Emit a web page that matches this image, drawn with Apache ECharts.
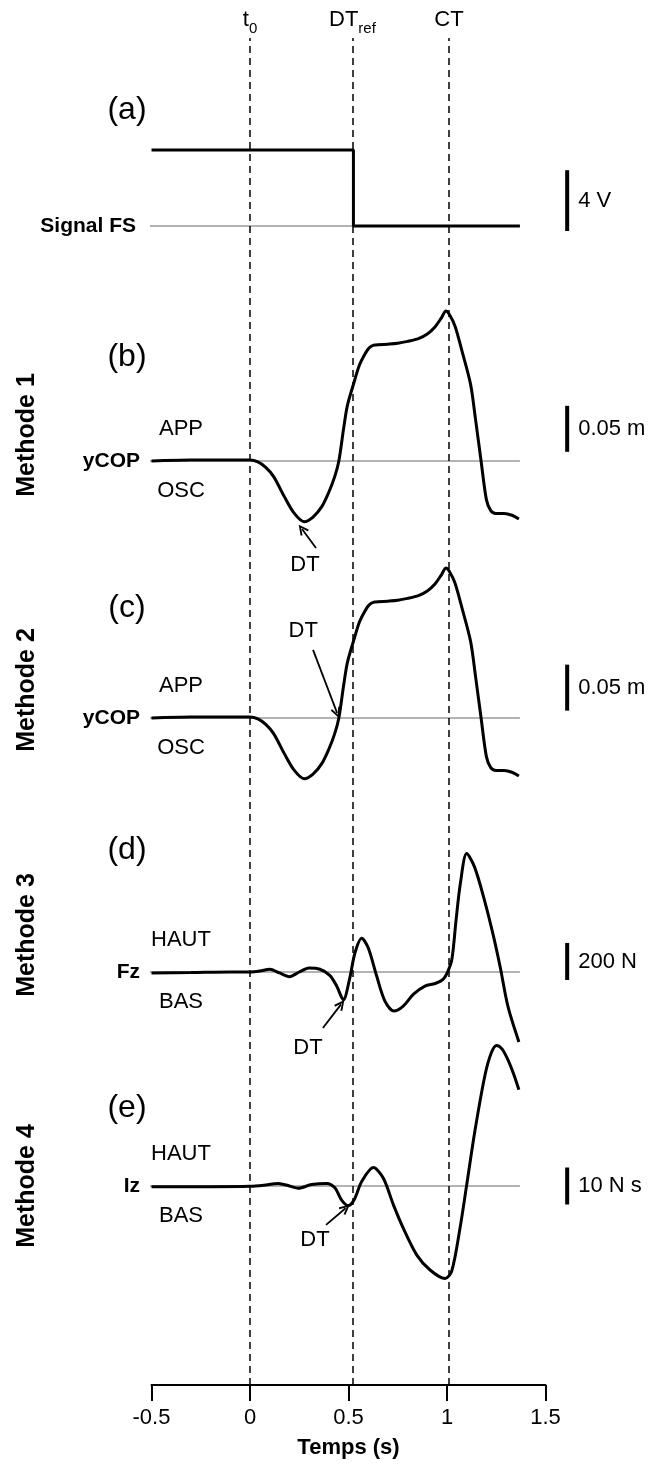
<!DOCTYPE html>
<html><head><meta charset="utf-8">
<script src="https://cdn.jsdelivr.net/npm/echarts@6/dist/echarts.min.js"></script>
<style>html,body{margin:0;padding:0;background:#fff}#c{width:656px;height:1464px}</style>
</head><body><div id="c"></div>
<script>
// ---------------- DATA ----------------
const timeTicks = [-0.5, 0, 0.5, 1, 1.5];
const eventNames = ['t0', 'DTref', 'CT'];
const eventTimes = [0, 0.52, 1.01];

// (a) signal FS (V)
const fsTime = [-0.5, 0.525, 0.525, 1.37];
const fsVolt = [5, 5, 0, 0];

// (b),(c) yCOP (m)
const ycopTime = [-0.5, -0.3, -0.1, 0, 0.04, 0.08, 0.12, 0.175, 0.225, 0.275, 0.32, 0.366, 0.4, 0.43, 0.451, 0.475, 0.494, 0.526, 0.555, 0.58, 0.605, 0.632, 0.7, 0.75, 0.8, 0.855, 0.9, 0.94, 0.97, 0.995, 1.01, 1.04, 1.078, 1.12, 1.145, 1.173, 1.2, 1.222, 1.248, 1.29, 1.33, 1.365];
const ycopVal = [0, 0.001, 0.001, 0.001, -0.001, -0.007, -0.017, -0.039, -0.057, -0.066, -0.061, -0.049, -0.034, -0.017, 0, 0.035, 0.06, 0.084, 0.104, 0.115, 0.123, 0.126, 0.127, 0.128, 0.130, 0.133, 0.138, 0.146, 0.155, 0.163, 0.160, 0.147, 0.118, 0.083, 0.045, 0, -0.042, -0.054, -0.057, -0.057, -0.059, -0.063];

// (d) Fz (N)
const fzTime = [-0.5, -0.3, -0.1, 0, 0.05, 0.1, 0.15, 0.2, 0.25, 0.3, 0.355, 0.405, 0.44, 0.474, 0.505, 0.533, 0.567, 0.6, 0.643, 0.685, 0.731, 0.778, 0.83, 0.888, 0.94, 0.98, 1.005, 1.025, 1.046, 1.068, 1.1, 1.14, 1.19, 1.237, 1.27, 1.31, 1.365];
const fzVal = [-5, -3, 0, 0, 5, 15, -5, -25, 0, 22, 15, -18, -76, -150, -40, 104, 182, 131, -22, -157, -211, -184, -120, -76, -62, -40, 5, 70, 280, 480, 640, 567, 389, 189, 27, -189, -378];

// (e) Iz (N s)
const izTime = [-0.5, -0.2, 0, 0.07, 0.144, 0.2, 0.245, 0.313, 0.389, 0.431, 0.465, 0.499, 0.528, 0.567, 0.626, 0.677, 0.728, 0.778, 0.846, 0.914, 0.99, 1.024, 1.066, 1.1, 1.142, 1.193, 1.225, 1.252, 1.28, 1.31, 1.34, 1.365];
const izVal = [-0.2, -0.2, -0.1, 0.2, 0.7, 0, -0.6, 0.4, 0.7, -0.5, -3.8, -5.3, -3.8, 1.2, 5.0, 2.1, -5.1, -11.4, -18.6, -22.7, -25, -23, -11.4, 0.3, 15, 30, 36, 38, 37, 34, 30, 26];

const baselineTime = [-0.51, 1.37];

const panelLetters = ['(a)', '(b)', '(c)', '(d)', '(e)'];
const methodNames = ['', 'Methode 1', 'Methode 2', 'Methode 3', 'Methode 4'];
const signalNames = ['Signal FS', 'yCOP', 'yCOP', 'Fz', 'Iz'];
const upperLabels = ['', 'APP', 'APP', 'HAUT', 'HAUT'];
const lowerLabels = ['', 'OSC', 'OSC', 'BAS', 'BAS'];
const scaleBarSize = [4, 0.05, 0.05, 200, 10];
const scaleBarStart = [-0.33, 0.01, 0.008, -43, -5];
const scaleBarLabels = ['4 V', '0.05 m', '0.05 m', '200 N', '10 N s'];
const scaleBarTime = 1.61;

// DT annotations: text position, arrow tail, arrow tip (time, value)
const dtText = [null, [0.279, -0.113], [0.27, 0.095], [0.294, -411], [0.33, -14.6]];
const dtTail = [null, [0.335, -0.0946], [0.32, 0.074], [0.37, -303], [0.386, -10.5]];
const dtTip  = [null, [0.264, -0.074], [0.442, 0.0055], [0.462, -175], [0.485, -6]];

// ---------------- LAYOUT ----------------
const FONT = '"Liberation Sans", Arial, Helvetica, sans-serif';
const X0 = 151.5, PX_PER_S = 197;
const layout = [
  {base: 226, ppu: 15.2, top: 40, bottom: 300, letterY: 110, methodY: 0},
  {base: 461, ppu: 920, top: 280, bottom: 600, letterY: 357, methodY: 435},
  {base: 718, ppu: 920, top: 540, bottom: 840, letterY: 608, methodY: 690},
  {base: 972, ppu: 0.185, top: 800, bottom: 1100, letterY: 850, methodY: 935},
  {base: 1186, ppu: 3.7, top: 1000, bottom: 1380, letterY: 1108, methodY: 1186}
];
const panelXMax = 1.75;

const signals = [
  [fsTime, fsVolt], [ycopTime, ycopVal], [ycopTime, ycopVal], [fzTime, fzVal], [izTime, izVal]
];

const grids = [{left: X0, right: 656 - (X0 + 2 * PX_PER_S), top: 38, bottom: 1464 - 1387}];
const xAxes = [{
  type: 'value', gridIndex: 0, min: -0.5, max: 1.5, interval: 0.5,
  axisLine: {show: true, lineStyle: {color: '#000', width: 2}},
  axisTick: {show: true, length: 16, inside: false, lineStyle: {color: '#000', width: 2}},
  axisLabel: {show: true, margin: 22, fontSize: 22, color: '#000', fontFamily: FONT,
    formatter: v => { const t = timeTicks.find(x => Math.abs(x - v) < 1e-9); return t === undefined ? '' : String(t); }},
  splitLine: {show: false},
  name: 'Temps (s)', nameLocation: 'middle', nameGap: 52,
  nameTextStyle: {fontSize: 22, fontWeight: 'bold', color: '#000', fontFamily: FONT}
}];
const yAxes = [{type: 'value', gridIndex: 0, min: 0, max: 1, show: false}];

const series = [];
// Event dashed lines
series.push({
  type: 'line', xAxisIndex: 0, yAxisIndex: 0, symbol: 'none', silent: true,
  lineStyle: {opacity: 0}, data: eventTimes.map(t => [t, 0.5]),
  markLine: {
    silent: true, symbol: 'none', animation: false,
    lineStyle: {type: [7, 5], color: '#000', width: 1.5},
    label: {
      show: true, position: 'end', distance: 2, color: '#000', fontFamily: FONT,
      rich: {
        n: {fontSize: 22, fontFamily: FONT, color: '#000', padding: [0, 0, 5, 0]},
        s: {fontSize: 15, fontFamily: FONT, color: '#000', verticalAlign: 'bottom'}
      }
    },
    data: eventTimes.map((t, i) => {
      const nm = eventNames[i];
      let f = '{n|' + nm + '}';
      if (nm === 't0') f = '{n|t}{s|0}';
      if (nm === 'DTref') f = '{n|DT}{s|ref}';
      return {xAxis: t, label: {formatter: f}};
    })
  }
});

layout.forEach((p, i) => {
  const gi = i + 1;
  grids.push({left: X0, top: p.top, width: (panelXMax + 0.5) * PX_PER_S, height: p.bottom - p.top});
  xAxes.push({type: 'value', gridIndex: gi, min: -0.5, max: panelXMax, show: false});
  yAxes.push({type: 'value', gridIndex: gi, min: -(p.bottom - p.base) / p.ppu, max: (p.base - p.top) / p.ppu, show: false});
  // baseline
  series.push({
    type: 'line', xAxisIndex: gi, yAxisIndex: gi, symbol: 'none', silent: true, z: 1,
    lineStyle: {color: '#9a9a9a', width: 1.5},
    data: baselineTime.map(t => [t, 0])
  });
  // signal
  const [tt, vv] = signals[i];
  const s = {
    type: 'line', xAxisIndex: gi, yAxisIndex: gi, symbol: 'none', silent: true, z: 3,
    smooth: i === 0 ? false : 0.3,
    lineStyle: {color: '#000', width: 3},
    data: tt.map((t, k) => [t, vv[k]])
  };
  if (dtTip[i]) {
    s.markLine = {
      silent: true, animation: false,
      symbol: ['none', 'path://M5,0 L10,10 L8.4,11.2 L5,4 L1.6,11.2 L0,10 Z'],
      symbolSize: [10, 11],
      lineStyle: {color: '#000', width: 1.8, type: 'solid'},
      label: {show: false},
      data: [[{coord: dtTail[i]}, {coord: dtTip[i]}]]
    };
  }
  series.push(s);
  // scale bar
  series.push({
    type: 'line', xAxisIndex: gi, yAxisIndex: gi, symbol: 'none', silent: true, z: 3,
    lineStyle: {color: '#000', width: 4, cap: 'butt'},
    data: [[scaleBarTime, scaleBarStart[i]], [scaleBarTime, scaleBarStart[i] + scaleBarSize[i]]]
  });
});

const chart = echarts.init(document.getElementById('c'), null, {renderer: 'canvas'});
chart.setOption({
  animation: false,
  backgroundColor: '#fff',
  grid: grids, xAxis: xAxes, yAxis: yAxes, series: series
});

// ---------------- TEXT LABELS ----------------
const graphic = [];
const txt = (x, y, text, font, align, extra) => Object.assign({type: 'text', x: x, y: y, silent: true,
  style: {text: text, font: font, fill: '#000', align: align || 'center', verticalAlign: 'middle'}}, extra || {});
layout.forEach((p, i) => {
  const gi = i + 1;
  graphic.push(txt(127, p.letterY, panelLetters[i], '32px ' + FONT));
  graphic.push(txt(i === 0 ? 136 : 140, p.base, signalNames[i], 'bold 21px ' + FONT, 'right'));
  if (upperLabels[i]) {
    graphic.push(txt(181, p.base - 32, upperLabels[i], '22px ' + FONT));
    graphic.push(txt(181, p.base + 30, lowerLabels[i], '22px ' + FONT));
  }
  if (methodNames[i]) {
    graphic.push(txt(27, p.methodY, methodNames[i], 'bold 25px ' + FONT, 'center', {rotation: Math.PI / 2}));
  }
  // scale-bar label, positioned from data through the grid's scales
  const mid = chart.convertToPixel({gridIndex: gi}, [scaleBarTime, scaleBarStart[i] + scaleBarSize[i] / 2]);
  graphic.push(txt(mid[0] + 11, mid[1], scaleBarLabels[i], '22px ' + FONT, 'left'));
  if (dtText[i]) {
    const q = chart.convertToPixel({gridIndex: gi}, dtText[i]);
    graphic.push(txt(q[0], q[1], 'DT', '22px ' + FONT));
  }
});
chart.setOption({graphic: graphic});
</script>
</body></html>
